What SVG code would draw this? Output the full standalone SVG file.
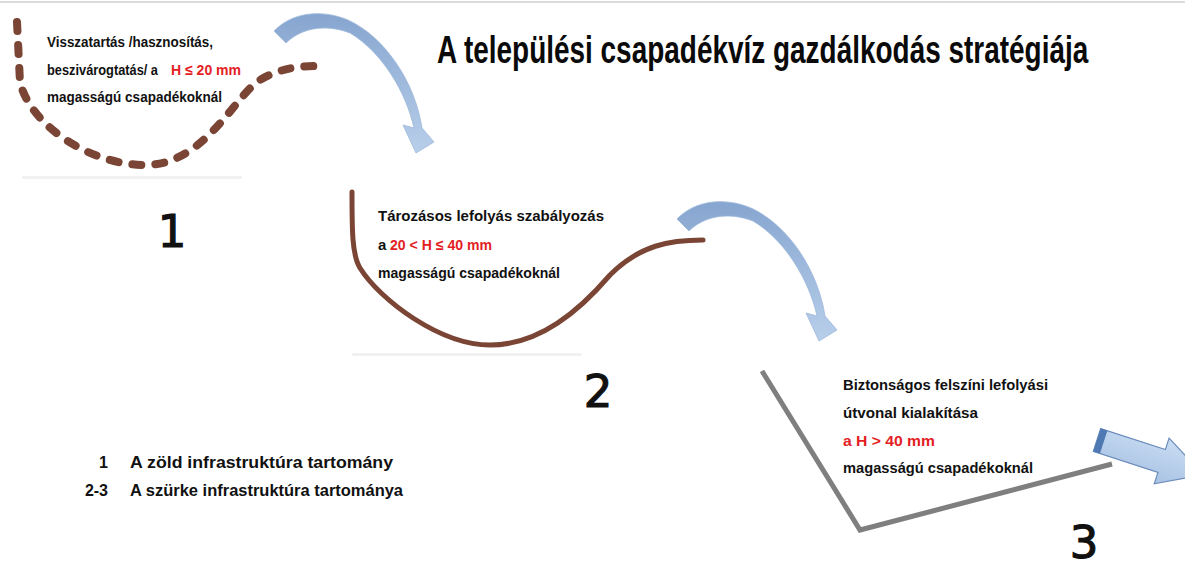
<svg xmlns="http://www.w3.org/2000/svg" width="1185" height="569" viewBox="0 0 1185 569">
  <style>
    .t { font-family: "Liberation Sans", Arial, sans-serif; font-weight: bold; font-size: 15px; fill: #111; }
    .red { fill: #e31e24; }
    .num { font-family: "DejaVu Sans", "Liberation Sans", sans-serif; font-size: 45px; fill: #111; stroke: #111; stroke-width: 1.2px; text-anchor: middle; }
    .leg { font-family: "Liberation Sans", Arial, sans-serif; font-weight: bold; font-size: 16px; fill: #111; }
    .title { font-family: "Liberation Sans", Arial, sans-serif; font-weight: bold; font-size: 38px; fill: #0a0a0a; }
    .refl { fill: #f1f1f1; }
  </style>
  <defs>
    <linearGradient id="curvG" x1="0" y1="0" x2="0" y2="1">
      <stop offset="0" stop-color="#86a5cf"/>
      <stop offset="1" stop-color="#b8cfea"/>
    </linearGradient>
    <linearGradient id="blockG" x1="0" y1="0" x2="0" y2="1">
      <stop offset="0" stop-color="#c9dcf2"/>
      <stop offset="1" stop-color="#a9c3e4"/>
    </linearGradient>
    <path id="curvedArrow" d="M274,31 C292,12 322,9 348,20 C385,37 415,82 422,128 L434,142 L416,153 L403,125 L414,128 C406,92 382,52 350,33 C324,23 300,29 286,43 Z" fill="url(#curvG)" stroke="#9db7da" stroke-width="0.8"/>
  </defs>

  <rect x="0" y="0" width="1185" height="569" fill="#ffffff"/>
  <line x1="0" y1="2" x2="1185" y2="2" stroke="#dcdcdc" stroke-width="2"/>

  <g id="title">
    <text class="title" transform="translate(437,63) scale(0.65,1)" x="0" y="0" textLength="1002" lengthAdjust="spacingAndGlyphs">A települési csapadékvíz gazdálkodás stratégiája</text>
  </g>

  <g id="stage1">
    <rect class="refl" x="22" y="176" width="220" height="3" rx="1.5"/>
    <path d="M17,22 L20,82 C30,125 90,165 145,165 C205,165 235,95 260,80 C280,68 300,66 318,66" fill="none" stroke="#7b4535" stroke-width="8" stroke-linecap="round" stroke-dasharray="9 14"/>
    <text class="t" x="47" y="47" textLength="166" lengthAdjust="spacingAndGlyphs">Visszatartás /hasznosítás,</text>
    <text class="t" x="47" y="75" textLength="111" lengthAdjust="spacingAndGlyphs">beszivárogtatás/ a</text>
    <text class="t red" x="171" y="75" textLength="70" lengthAdjust="spacingAndGlyphs">H  ≤ 20 mm</text>
    <text class="t" x="47" y="102" textLength="175" lengthAdjust="spacingAndGlyphs">magasságú csapadékoknál</text>
    <text class="num" x="172" y="247">1</text>
  </g>

  <g id="stage2">
    <rect class="refl" x="352" y="353" width="230" height="3" rx="1.5"/>
    <path d="M352,192 C352,230 352,255 360,268 C380,300 440,345 490,345 C540,345 580,310 610,275 C640,245 670,240 703,240" fill="none" stroke="#7b4535" stroke-width="5" stroke-linecap="round"/>
    <text class="t" x="378" y="221" textLength="226" lengthAdjust="spacingAndGlyphs">Tározásos lefolyás szabályozás</text>
    <text class="t" x="378" y="250">a</text>
    <text class="t red" x="390" y="250" textLength="102" lengthAdjust="spacingAndGlyphs">20 &lt; H  ≤ 40 mm</text>
    <text class="t" x="378" y="278" textLength="182" lengthAdjust="spacingAndGlyphs">magasságú csapadékoknál</text>
    <text class="num" x="598" y="407">2</text>
  </g>

  <g id="stage3">
    <path d="M762,371 L860,530 L1112,464" fill="none" stroke="#7f7f7f" stroke-width="5" stroke-linejoin="miter"/>
    <text class="t" x="843" y="390" textLength="205" lengthAdjust="spacingAndGlyphs">Biztonságos felszíni lefolyási</text>
    <text class="t" x="843" y="418" textLength="135" lengthAdjust="spacingAndGlyphs">útvonal kialakítása</text>
    <text class="t red" x="843" y="446" textLength="92" lengthAdjust="spacingAndGlyphs">a H  &gt; 40 mm</text>
    <text class="t" x="843" y="473" textLength="190" lengthAdjust="spacingAndGlyphs">magasságú  csapadékoknál</text>
    <text class="num" x="1084" y="558">3</text>
  </g>

  <g id="legend">
    <text class="leg" x="108" y="468" text-anchor="end">1</text>
    <text class="leg" x="130" y="468" textLength="263" lengthAdjust="spacingAndGlyphs">A zöld infrastruktúra tartomány</text>
    <text class="leg" x="108" y="496" text-anchor="end">2-3</text>
    <text class="leg" x="130" y="496" textLength="273" lengthAdjust="spacingAndGlyphs">A szürke  infrastruktúra  tartománya</text>
  </g>

  <g id="connectors">
    <use href="#curvedArrow"/>
    <use href="#curvedArrow" transform="translate(403,188)"/>
    <g transform="translate(1097,440) rotate(18)">
      <path d="M0,-12 L68,-12 L68,-24 L112,0 L68,24 L68,12 L0,12 Z" fill="url(#blockG)" stroke="#6b8cbd" stroke-width="1.2" stroke-linejoin="miter"/>
      <rect x="0" y="-12" width="7" height="24" fill="#4f79b2"/>
    </g>
  </g>
</svg>
